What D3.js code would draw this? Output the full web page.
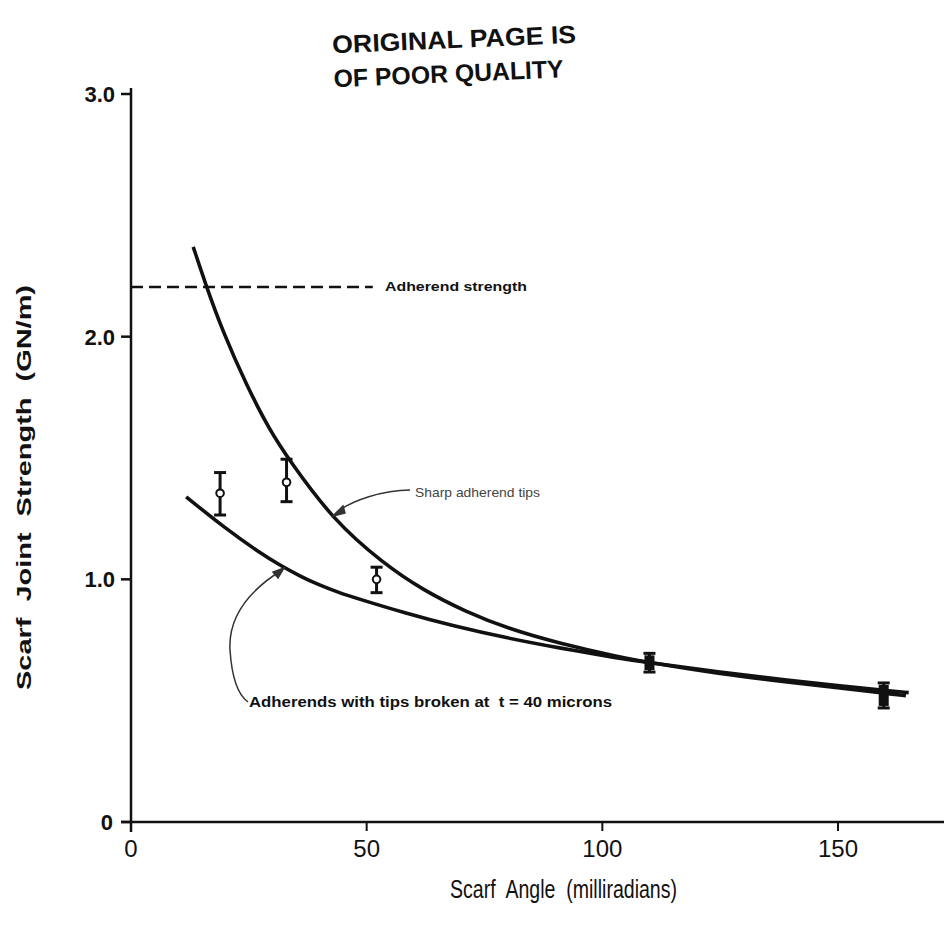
<!DOCTYPE html>
<html><head><meta charset="utf-8">
<script src="https://cdn.jsdelivr.net/npm/d3@7"></script>
<style>body{margin:0;background:#fff}svg{display:block}</style>
</head><body>
<svg id="c" width="944" height="930"></svg>
<script>
const xTicks = [0, 50, 100, 150];
const yTicks = [0, 1, 2, 3];
const yTickLabels = ["0", "1.0", "2.0", "3.0"];
const sharpX = [13.2, 16, 19.5, 24.5, 29.4, 33.6, 42.9, 53.5, 62, 71.1, 80, 90.9, 103.6, 110, 125, 140, 150, 159.3, 164.4];
const sharpY = [2.37, 2.206, 2.02, 1.80, 1.615, 1.49, 1.244, 1.066, 0.955, 0.866, 0.797, 0.736, 0.68, 0.657, 0.61, 0.575, 0.553, 0.533, 0.52];
const brokenX = [11.7, 20, 27.3, 31.6, 36, 40, 44, 48.5, 58, 68.3, 80, 90.9, 103.6, 110, 125, 140, 150, 159.3, 165];
const brokenY = [1.34, 1.21, 1.11, 1.058, 1.012, 0.976, 0.946, 0.918, 0.862, 0.808, 0.757, 0.717, 0.674, 0.657, 0.617, 0.582, 0.562, 0.543, 0.533];
const ptX = [18.9, 33.0, 52.1, 110, 159.7];
const ptY = [1.355, 1.40, 1.00, 0.655, 0.52];
const ptLo = [1.265, 1.32, 0.945, 0.618, 0.47];
const ptHi = [1.44, 1.495, 1.05, 0.695, 0.573];
const adherendStrength = 2.205;
const adherendX = [0, 51.3];

const svg = d3.select("#c");
const x = d3.scaleLinear().domain([0, 150]).range([131, 838]);
const y = d3.scaleLinear().domain([0, 3]).range([822, 94]);

// title stamp
const stamp = svg.append("g").attr("transform", "rotate(-2.5 455 60)")
  .attr("font-family", "Liberation Sans, Arial, sans-serif").attr("font-weight", "bold")
  .attr("font-size", 25).attr("text-anchor", "start").attr("fill", "#111");
stamp.append("text").attr("x", 333).attr("y", 48).attr("textLength", 244).attr("lengthAdjust", "spacingAndGlyphs").text("ORIGINAL PAGE IS");
stamp.append("text").attr("x", 333).attr("y", 82).attr("textLength", 230).attr("lengthAdjust", "spacingAndGlyphs").text("OF POOR QUALITY");

// axes
const ax = svg.append("g").attr("stroke", "#111").attr("stroke-width", 2.5).attr("fill", "none");
ax.append("line").attr("x1", x(0)).attr("x2", x(0)).attr("y1", y(0) + 10).attr("y2", y(3) - 6);
ax.append("line").attr("x1", x(0) - 10).attr("x2", 944).attr("y1", y(0)).attr("y2", y(0));
yTicks.forEach(t => {
  ax.append("line").attr("x1", x(0) - 10).attr("x2", x(0)).attr("y1", y(t)).attr("y2", y(t));
});
xTicks.slice(1).forEach(t => {
  ax.append("line").attr("x1", x(t)).attr("x2", x(t)).attr("y1", y(0)).attr("y2", y(0) + 9).attr("stroke-width", 2);
});

// y tick labels
svg.append("g").attr("font-family", "Liberation Sans, Arial, sans-serif").attr("font-weight", "bold")
  .attr("font-size", 22).attr("text-anchor", "end").attr("fill", "#111")
  .selectAll("text").data(yTicks).join("text")
  .attr("x", d => d === 0 ? x(0) - 18 : x(0) - 16).attr("y", d => y(d) + 8)
  .text((d, i) => yTickLabels[i]);

// x tick labels
svg.append("g").attr("font-family", "Liberation Sans Narrow, Liberation Sans, sans-serif")
  .attr("font-size", 24).attr("text-anchor", "middle").attr("fill", "#111")
  .selectAll("text").data(xTicks).join("text")
  .attr("x", d => x(d)).attr("y", y(0) + 35).text(d => d);

// axis titles
svg.append("text").attr("x", 450).attr("y", 898)
  .attr("textLength", 227).attr("lengthAdjust", "spacingAndGlyphs")
  .attr("font-family", "Liberation Sans Narrow, Liberation Sans, sans-serif").attr("font-size", 25)
  .attr("fill", "#111").attr("xml:space", "preserve").text("Scarf  Angle  (milliradians)");
svg.append("text").attr("transform", "translate(31,690) rotate(-90)")
  .attr("textLength", 405).attr("lengthAdjust", "spacingAndGlyphs")
  .attr("font-family", "Liberation Sans, Arial, sans-serif").attr("font-size", 21).attr("font-weight", "bold")
  .attr("fill", "#111").attr("xml:space", "preserve").text("Scarf  Joint  Strength  (GN/m)");

// adherend strength dashed line
svg.append("line").attr("x1", x(adherendX[0])).attr("x2", x(adherendX[1]))
  .attr("y1", y(adherendStrength)).attr("y2", y(adherendStrength))
  .attr("stroke", "#111").attr("stroke-width", 2.5).attr("stroke-dasharray", "12,6");
svg.append("text").attr("x", 385).attr("y", y(adherendStrength) + 4)
  .attr("textLength", 142).attr("lengthAdjust", "spacingAndGlyphs")
  .attr("font-family", "Liberation Sans Narrow, Liberation Sans, sans-serif").attr("font-weight", "bold")
  .attr("font-size", 13).attr("fill", "#111").text("Adherend strength");

// curves
const line = d3.line().x(d => x(d[0])).y(d => y(d[1])).curve(d3.curveBasis);
svg.append("path").datum(sharpX.map((v, i) => [v, sharpY[i]])).attr("d", line)
  .attr("fill", "none").attr("stroke", "#111").attr("stroke-width", 3.6);
svg.append("path").datum(brokenX.map((v, i) => [v, brokenY[i]])).attr("d", line)
  .attr("fill", "none").attr("stroke", "#111").attr("stroke-width", 3.6);

// error bars
const eb = svg.append("g").attr("stroke", "#111").attr("stroke-width", 3);
ptX.forEach((v, i) => {
  eb.append("line").attr("x1", x(v)).attr("x2", x(v)).attr("y1", y(ptLo[i])).attr("y2", y(ptHi[i]));
  [ptLo[i], ptHi[i]].forEach(e => eb.append("line").attr("x1", x(v) - 6).attr("x2", x(v) + 6)
    .attr("y1", y(e)).attr("y2", y(e)));
  if (i < 3) eb.append("circle").attr("cx", x(v)).attr("cy", y(ptY[i])).attr("r", 3.8)
    .attr("fill", "#fff").attr("stroke-width", 2);
  else eb.append("rect").attr("x", x(v) - 5).attr("y", y(ptHi[i]) + 2).attr("width", 10)
    .attr("height", y(ptLo[i]) - y(ptHi[i]) - 4).attr("fill", "#111").attr("stroke", "none");
});

// annotations
const ann = svg.append("g").attr("fill", "none").attr("stroke", "#333").attr("stroke-width", 1.5);
ann.append("path").attr("d", "M410,490 C385,490 350,500 335,514");
ann.append("path").attr("d", "M333,516 L343,506 L345,513 Z").attr("fill", "#333");
svg.append("text").attr("x", 415).attr("y", 497)
  .attr("textLength", 125).attr("lengthAdjust", "spacingAndGlyphs")
  .attr("font-family", "Liberation Sans Narrow, Liberation Sans, sans-serif")
  .attr("font-size", 13).attr("fill", "#444").text("Sharp adherend tips");

ann.append("path").attr("d", "M282,570 C250,590 228,615 230,650 C232,680 238,695 248,702");
ann.append("path").attr("d", "M284,568 L273,572 L278,578 Z").attr("fill", "#333");
svg.append("text").attr("x", 249).attr("y", 707)
  .attr("textLength", 363).attr("lengthAdjust", "spacingAndGlyphs")
  .attr("font-family", "Liberation Sans Narrow, Liberation Sans, sans-serif").attr("font-weight", "bold")
  .attr("font-size", 14.5).attr("fill", "#111").attr("xml:space", "preserve")
  .text("Adherends with tips broken at  t = 40 microns");
</script>
</body></html>
